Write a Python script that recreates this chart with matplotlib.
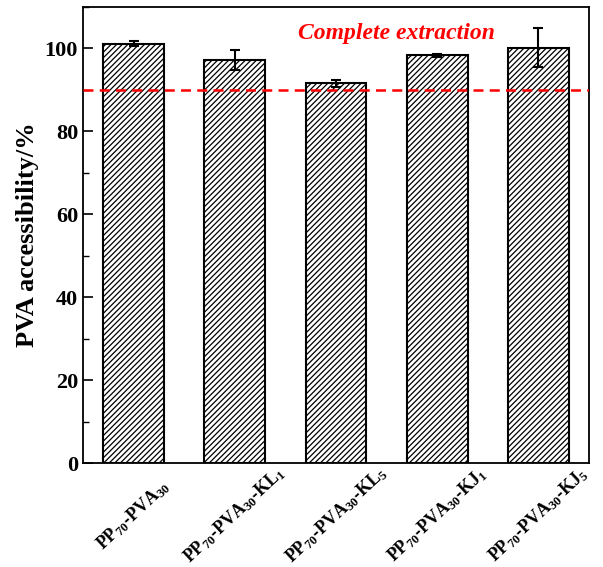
import matplotlib
matplotlib.use("Agg")
import matplotlib.pyplot as plt
import matplotlib.transforms as mtransforms
import numpy as np
from matplotlib.ticker import MultipleLocator

plt.rcParams['font.family'] = 'Liberation Serif'
plt.rcParams['font.weight'] = 'bold'
plt.rcParams['mathtext.fontset'] = 'custom'
plt.rcParams['mathtext.rm'] = 'Liberation Serif:bold'
plt.rcParams['mathtext.bf'] = 'Liberation Serif:bold'
plt.rcParams['mathtext.it'] = 'Liberation Serif:bold'
plt.rcParams['hatch.linewidth'] = 0.9

names = [r'PP$_{70}$-PVA$_{30}$',
         r'PP$_{70}$-PVA$_{30}$-KL$_{1}$',
         r'PP$_{70}$-PVA$_{30}$-KL$_{5}$',
         r'PP$_{70}$-PVA$_{30}$-KJ$_{1}$',
         r'PP$_{70}$-PVA$_{30}$-KJ$_{5}$']
values = [101.1, 97.3, 91.6, 98.3, 100.2]
errors = [0.6, 2.4, 0.8, 0.3, 4.7]
threshold = 90

fig = plt.figure(figsize=(6.03, 5.67), dpi=100)
ax = fig.add_axes([0.1376, 0.1834, 0.8392, 0.8043])

x = np.arange(1, len(names) + 1)
ax.bar(x, values, width=0.6, color='white', edgecolor='black', linewidth=1.5,
       hatch='//////', yerr=errors, capsize=3.5,
       error_kw=dict(elinewidth=1.5, capthick=1.5, ecolor='black'))
ax.axhline(threshold, color='red', linestyle=(0, (4, 2.5)), linewidth=1.8, zorder=3)
ax.text(3.6, 103.6, 'Complete extraction', color='red', fontsize=17,
        fontstyle='italic', fontweight='bold', ha='center', va='center')

ax.set_xlim(0.5, 5.5)
ax.set_ylim(0, 110)
ax.yaxis.set_major_locator(MultipleLocator(20))
ax.yaxis.set_minor_locator(MultipleLocator(10))
ax.tick_params(axis='y', which='major', direction='in', length=7, width=1.2, labelsize=16)
ax.tick_params(axis='y', which='minor', direction='in', length=4, width=1.0)
ax.tick_params(axis='x', length=0, labelsize=13, pad=0)
ax.set_xticks(x)
ax.set_xticklabels(names, rotation=43, ha='center', va='center', rotation_mode='anchor')
shift = mtransforms.ScaledTranslation(0, -0.52, fig.dpi_scale_trans)
for lab in ax.get_xticklabels():
    lab.set_transform(lab.get_transform() + shift)
ax.set_ylabel('PVA accessibility/%', fontsize=19, fontweight='bold', labelpad=4)
for s in ax.spines.values():
    s.set_linewidth(1.3)

fig.savefig('out.png', dpi=100)
